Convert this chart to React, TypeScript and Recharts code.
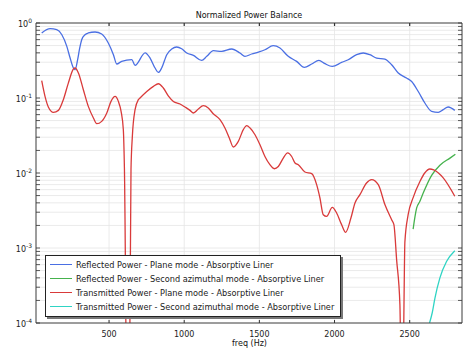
import { LineChart, Line, XAxis, YAxis, CartesianGrid, Legend, Customized } from 'recharts';

// Reflected Power - Plane mode
const reflPlaneFreq = [52, 108, 152, 186, 219, 241, 263, 274, 291, 304, 318, 340, 362, 407, 451, 495, 529, 551, 584, 651, 673, 740, 773, 806, 828, 850, 884, 917, 950, 983, 1017, 1061, 1116, 1150, 1194, 1249, 1316, 1371, 1404, 1449, 1493, 1537, 1592, 1637, 1692, 1748, 1799, 1848, 1896, 1936, 1985, 2047, 2091, 2147, 2191, 2235, 2280, 2335, 2380, 2424, 2479, 2513, 2557, 2601, 2646, 2690, 2723, 2756, 2800];
const reflPlaneVal = [0.736, 0.84, 0.814, 0.698, 0.488, 0.341, 0.251, 0.238, 0.324, 0.454, 0.599, 0.698, 0.736, 0.759, 0.713, 0.541, 0.378, 0.284, 0.308, 0.324, 0.272, 0.4, 0.341, 0.251, 0.219, 0.251, 0.378, 0.45, 0.479, 0.454, 0.398, 0.37, 0.317, 0.359, 0.427, 0.418, 0.45, 0.398, 0.359, 0.386, 0.41, 0.44, 0.498, 0.464, 0.359, 0.308, 0.256, 0.284, 0.317, 0.287, 0.264, 0.298, 0.324, 0.378, 0.398, 0.378, 0.341, 0.331, 0.278, 0.215, 0.185, 0.166, 0.122, 0.0858, 0.0663, 0.0643, 0.0699, 0.0759, 0.0684];

// Reflected Power - Second azimuthal mode
const reflAzFreq = [2523, 2535, 2546, 2568, 2590, 2646, 2701, 2768, 2804];
const reflAzVal = [0.00179, 0.0026, 0.0034, 0.0042, 0.0054, 0.0093, 0.0127, 0.0158, 0.0178];

// Transmitted Power - Plane mode
const transPlaneFreq = [52, 74, 96, 130, 163, 196, 229, 263, 274, 296, 329, 362, 396, 418, 451, 485, 513, 540, 562, 580, 595, 602, 627, 646, 655, 673, 695, 706, 751, 795, 828, 861, 894, 928, 972, 1005, 1039, 1061, 1094, 1127, 1160, 1193, 1238, 1271, 1300, 1327, 1360, 1393, 1416, 1438, 1471, 1504, 1537, 1570, 1599, 1626, 1659, 1688, 1715, 1737, 1759, 1803, 1848, 1881, 1903, 1925, 1947, 1985, 2014, 2047, 2074, 2109, 2136, 2169, 2213, 2247, 2291, 2335, 2380, 2395, 2413, 2435, 2450, 2462, 2468, 2490, 2523, 2568, 2600, 2634, 2660, 2723, 2800];
const transPlaneVal = [0.17, 0.105, 0.0759, 0.0643, 0.0684, 0.0949, 0.158, 0.244, 0.251, 0.216, 0.129, 0.0773, 0.0541, 0.0454, 0.0488, 0.0631, 0.0901, 0.105, 0.0901, 0.0663, 0.0378, 0.0122, 1e-7, 0.0111, 0.0308, 0.0699, 0.0949, 0.1, 0.122, 0.143, 0.155, 0.136, 0.107, 0.0901, 0.0832, 0.0759, 0.0684, 0.0631, 0.0713, 0.0789, 0.0736, 0.0618, 0.0514, 0.0398, 0.0293, 0.0222, 0.0264, 0.0378, 0.0427, 0.0398, 0.0324, 0.0238, 0.0166, 0.0129, 0.0114, 0.0122, 0.0158, 0.0185, 0.0166, 0.0136, 0.0129, 0.0103, 0.0098, 0.007, 0.00464, 0.00278, 0.00264, 0.00348, 0.00293, 0.00205, 0.00162, 0.00251, 0.00398, 0.00514, 0.00736, 0.00814, 0.00699, 0.0038, 0.00238, 0.00205, 0.0007, 0.000175, 1e-6, 0.00017, 0.0012, 0.0028, 0.0047, 0.0077, 0.01, 0.0113, 0.011, 0.0086, 0.0049];

// Transmitted Power - Second azimuthal mode
const transAzFreq = [2632, 2650, 2668, 2701, 2745, 2800];
const transAzVal = [0.0001, 0.000137, 0.000215, 0.0004, 0.00066, 0.00092];

const xTicks = [500, 1000, 1500, 2000, 2500];
const yMantissas = [1, 2, 3, 4, 5, 6, 7, 8, 9];
const yDecades = [-4, -3, -2, -1];

const yTicks = [...yDecades.flatMap(e => yMantissas.map(m => m * Math.pow(10, e))), 1];

const toRows = (f: number[], v: number[]) => f.map((x, i) => ({ f: x, v: v[i] }));

const series = [
  { name: 'Reflected Power - Plane mode - Absorptive Liner', color: '#4a6fe3', data: toRows(reflPlaneFreq, reflPlaneVal) },
  { name: 'Reflected Power - Second azimuthal mode - Absorptive Liner', color: '#45b24d', data: toRows(reflAzFreq, reflAzVal) },
  { name: 'Transmitted Power - Plane mode - Absorptive Liner', color: '#d93a3a', data: toRows(transPlaneFreq, transPlaneVal) },
  { name: 'Transmitted Power - Second azimuthal mode - Absorptive Liner', color: '#2fd4c4', data: toRows(transAzFreq, transAzVal) },
];

const isMajor = (v: number) => Math.abs(Math.log10(v) - Math.round(Math.log10(v))) < 1e-6;

const LeftTick = (props: any) => {
  const { x, y, payload } = props;
  const major = isMajor(payload.value);
  const e = Math.round(Math.log10(payload.value));
  return (
    <g>
      <line x1={x} x2={x + 4} y1={y} y2={y} stroke="#333" strokeWidth={0.8} />
      {major && (
        <text x={x - 4} y={y + 4} textAnchor="end" fontSize={8} fill="#222">
          10<tspan dy={-4} fontSize={6}>{e}</tspan>
        </text>
      )}
    </g>
  );
};

const RightTick = (props: any) => {
  const { x, y } = props;
  return <line x1={x} x2={x - 4} y1={y} y2={y} stroke="#333" strokeWidth={0.8} />;
};

const BottomTick = (props: any) => {
  const { x, y, payload } = props;
  return (
    <g>
      <line x1={x} x2={x} y1={y} y2={y - 3} stroke="#333" strokeWidth={1} />
      <text x={x} y={y + 14} textAnchor="middle" fontSize={8} fill="#222">{payload.value}</text>
    </g>
  );
};

const TopTick = (props: any) => {
  const { x, y } = props;
  return <line x1={x} x2={x} y1={y} y2={y + 3} stroke="#333" strokeWidth={1.2} />;
};

const Texts = () => (
  <g>
    <text x={249} y={18} textAnchor="middle" fontSize={8} fill="#111">Normalized Power Balance</text>
    <text x={249.5} y={346} textAnchor="middle" fontSize={8} fill="#111">freq (Hz)</text>
  </g>
);

const LegendBox = (props: any) => {
  const items = props.payload || [];
  return (
    <div style={{
      boxSizing: 'border-box', width: 296, height: 62, border: '1px solid #222',
      boxShadow: '2px 2px 0 #777', background: '#fff', padding: '2px 0 0 4px',
      fontFamily: 'DejaVu Sans', fontSize: 8.2, color: '#222',
    }}>
      {items.map((it: any) => (
        <div key={it.value} style={{ height: 13.9, display: 'flex', alignItems: 'center', whiteSpace: 'nowrap' }}>
          <span style={{ display: 'inline-block', width: 22, height: 0, borderTop: `1.3px solid ${it.color}`, marginRight: 4 }} />
          <span>{it.value}</span>
        </div>
      ))}
    </div>
  );
};

export default function App() {
  return (
    <div style={{ position: 'absolute', left: 0, top: 0, background: '#fff' }}>
      <LineChart width={474} height={354} margin={{ top: 22, right: 11, bottom: 11, left: 6 }} style={{ fontFamily: 'DejaVu Sans' }}>
        <CartesianGrid stroke="#e4e4e4" strokeWidth={0.8} />
        <XAxis dataKey="f" type="number" domain={[14, 2848]} ticks={xTicks} interval={0} height={20}
          tickSize={0} tickMargin={0} tick={<BottomTick />} axisLine={{ stroke: '#444' }} allowDataOverflow />
        <XAxis xAxisId="top" orientation="top" dataKey="f" type="number" domain={[14, 2848]} ticks={xTicks} interval={0} height={1}
          tickSize={0} tickMargin={0} tick={<TopTick />} axisLine={{ stroke: '#444' }} allowDataOverflow />
        <YAxis scale="log" type="number" domain={[1e-4, 1]} ticks={yTicks} interval={0} width={30}
          tickSize={0} tickMargin={0} tick={<LeftTick />} axisLine={{ stroke: '#444' }} allowDataOverflow />
        <YAxis yAxisId="r" orientation="right" scale="log" type="number" domain={[1e-4, 1]} ticks={yTicks} interval={0} width={1}
          tickSize={0} tickMargin={0} tick={<RightTick />} axisLine={{ stroke: '#444' }} allowDataOverflow />
        {series.map(s => (
          <Line key={s.name} data={s.data} dataKey="v" name={s.name} type="monotone" stroke={s.color}
            strokeWidth={1.3} dot={false} isAnimationActive={false} />
        ))}
        <Legend layout="vertical" align="center" verticalAlign="middle" content={<LegendBox />}
          wrapperStyle={{ left: 45, top: 255, width: 'auto', height: 'auto' }} />
        <Customized component={Texts} />
      </LineChart>
    </div>
  );
}
